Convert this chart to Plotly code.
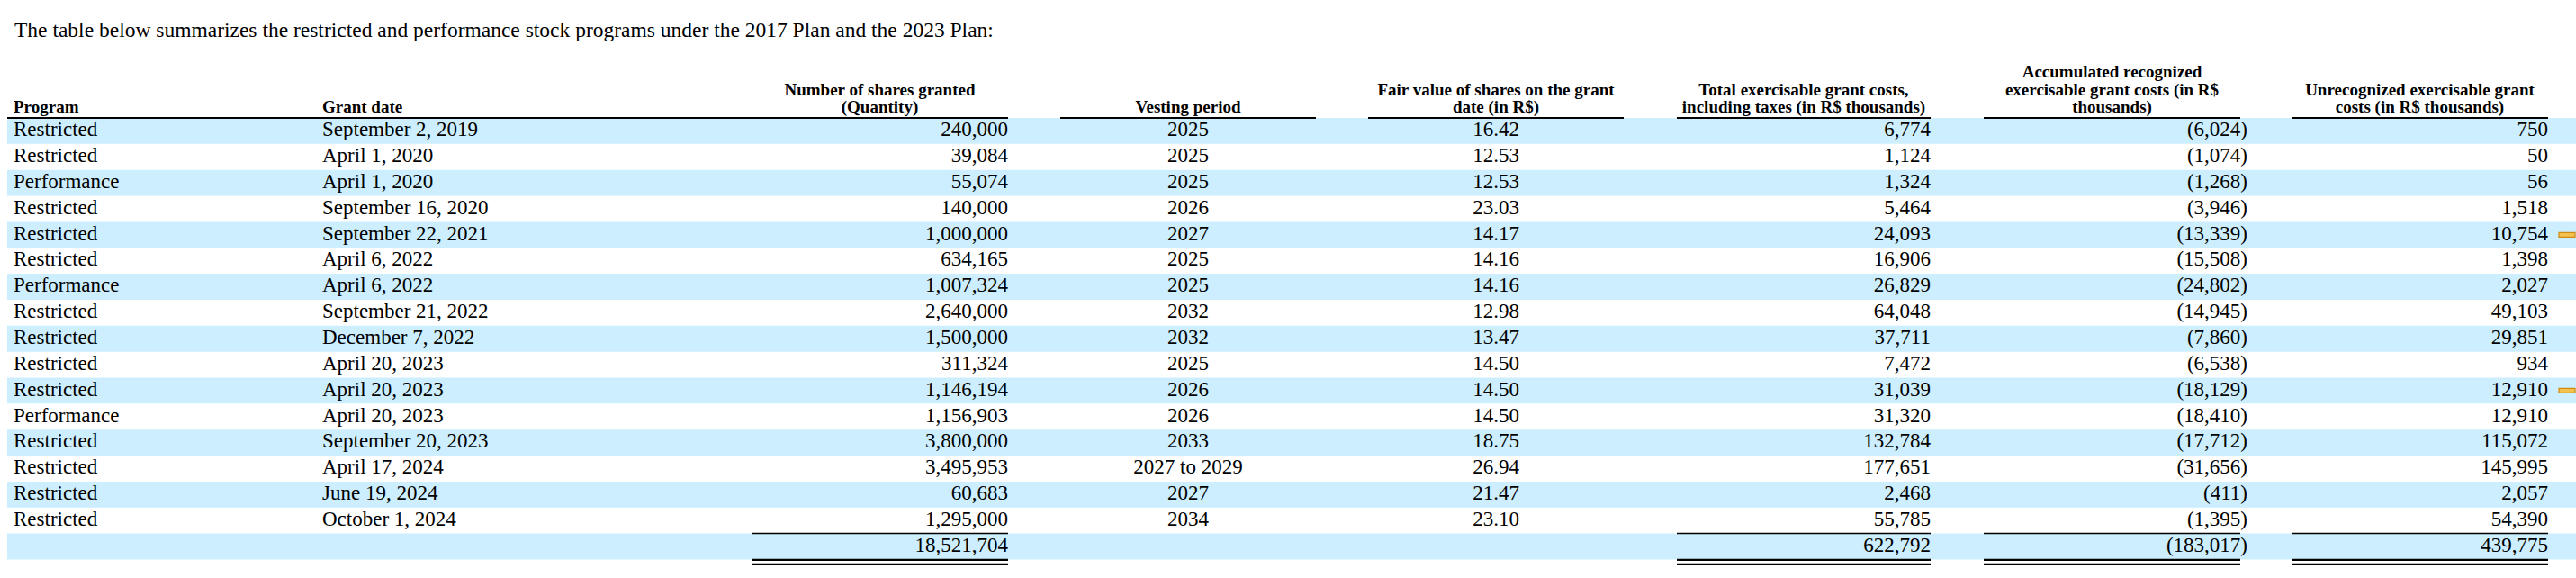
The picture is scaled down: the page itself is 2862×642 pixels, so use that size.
import plotly.graph_objects as go

# --- table data -----------------------------------------------------------
title_text = ("The table below summarizes the restricted and performance stock programs "
              "under the 2017 Plan and the 2023 Plan:")

programs = ["Restricted", "Restricted", "Performance", "Restricted", "Restricted", "Restricted",
            "Performance", "Restricted", "Restricted", "Restricted", "Restricted", "Performance",
            "Restricted", "Restricted", "Restricted", "Restricted"]
grant_dates = ["September 2, 2019", "April 1, 2020", "April 1, 2020", "September 16, 2020",
               "September 22, 2021", "April 6, 2022", "April 6, 2022", "September 21, 2022",
               "December 7, 2022", "April 20, 2023", "April 20, 2023", "April 20, 2023",
               "September 20, 2023", "April 17, 2024", "June 19, 2024", "October 1, 2024"]
shares_granted = [240000, 39084, 55074, 140000, 1000000, 634165, 1007324, 2640000, 1500000,
                  311324, 1146194, 1156903, 3800000, 3495953, 60683, 1295000]
vesting_period = ["2025", "2025", "2025", "2026", "2027", "2025", "2025", "2032", "2032", "2025",
                  "2026", "2026", "2033", "2027 to 2029", "2027", "2034"]
fair_value = [16.42, 12.53, 12.53, 23.03, 14.17, 14.16, 14.16, 12.98, 13.47, 14.50, 14.50, 14.50,
              18.75, 26.94, 21.47, 23.10]
total_costs = [6774, 1124, 1324, 5464, 24093, 16906, 26829, 64048, 37711, 7472, 31039, 31320,
               132784, 177651, 2468, 55785]
accumulated = [-6024, -1074, -1268, -3946, -13339, -15508, -24802, -14945, -7860, -6538, -18129,
               -18410, -17712, -31656, -411, -1395]
unrecognized = [750, 50, 56, 1518, 10754, 1398, 2027, 49103, 29851, 934, 12910, 12910, 115072,
                145995, 2057, 54390]
totals = {"shares": 18521704, "total": 622792, "accum": -183017, "unrec": 439775}

headers = {
    "program": ["Program"],
    "date": ["Grant date"],
    "shares": ["Number of shares granted", "(Quantity)"],
    "vesting": ["Vesting period"],
    "fair": ["Fair value of shares on the grant", "date (in R$)"],
    "total": ["Total exercisable grant costs,", "including taxes (in R$ thousands)"],
    "accum": ["Accumulated recognized", "exercisable grant costs (in R$", "thousands)"],
    "unrec": ["Unrecognized exercisable grant", "costs (in R$ thousands)"],
}
flagged_rows = [4, 10]

# --- layout constants (pixels) -------------------------------------------
W, H = 2862, 642
TOP = 131          # header underline / first row top
ROW_H = 28.85
FONT = "Liberation Serif"
BAND = "#CCEEFF"

# column spans (left, right) of the header underlines
cols = {
    "shares": (835, 1120), "vesting": (1178, 1462), "fair": (1520, 1804),
    "total": (1863, 2145), "accum": (2204, 2489), "unrec": (2546, 2831),
}
x_program, x_date = 15, 358


def money(v):
    return f"({abs(v):,})" if v < 0 else f"{v:,}"


n = len(programs)
row_y = [TOP + (i + 0.5) * ROW_H for i in range(n + 1)]

fig = go.Figure()

# zebra bands
shapes = []
for i in range(0, n + 1, 2):
    shapes.append(dict(type="rect", xref="x", yref="y", x0=8, x1=W, y0=TOP + i * ROW_H,
                       y1=TOP + (i + 1) * ROW_H, fillcolor=BAND, line_width=0, layer="below"))

# header underlines
shapes.append(dict(type="line", xref="x", yref="y", x0=8, x1=cols["shares"][1], y0=TOP, y1=TOP,
                   line=dict(color="black", width=2)))
for key in ["vesting", "fair", "total", "accum", "unrec"]:
    shapes.append(dict(type="line", xref="x", yref="y", x0=cols[key][0], x1=cols[key][1],
                       y0=TOP, y1=TOP, line=dict(color="black", width=2)))

# total rule above and double rule below
y_tot_top = TOP + n * ROW_H
y_tot_bot = TOP + (n + 1) * ROW_H
for key in ["shares", "total", "accum", "unrec"]:
    x0, x1 = cols[key]
    shapes.append(dict(type="line", xref="x", yref="y", x0=x0, x1=x1, y0=y_tot_top, y1=y_tot_top,
                       line=dict(color="black", width=1.5)))
    for dy in (0.5, 5.5):
        shapes.append(dict(type="line", xref="x", yref="y", x0=x0, x1=x1, y0=y_tot_bot + dy,
                           y1=y_tot_bot + dy, line=dict(color="black", width=2.2)))

# small orange markers on the right edge
for r in flagged_rows:
    shapes.append(dict(type="rect", xref="x", yref="y", x0=2843, x1=W - 1, y0=row_y[r] - 2.5,
                       y1=row_y[r] + 2.5, fillcolor="#F2C14E", line=dict(color="#D18B12", width=1.2)))

body_font = dict(family=FONT, size=23, color="black")


def text_col(x, texts, pos, ys=None):
    ys = ys if ys is not None else row_y[:len(texts)]
    fig.add_trace(go.Scatter(x=[x] * len(texts), y=ys, text=texts, mode="text",
                             textposition=pos, textfont=body_font, hoverinfo="skip",
                             showlegend=False))


text_col(x_program, programs, "middle right")
text_col(x_date, grant_dates, "middle right")
text_col(cols["shares"][1], [f"{v:,}" for v in shares_granted] + [f"{totals['shares']:,}"],
         "middle left")
text_col(sum(cols["vesting"]) / 2, vesting_period, "middle center")
text_col(sum(cols["fair"]) / 2, [f"{v:.2f}" for v in fair_value], "middle center")
text_col(cols["total"][1], [money(v) for v in total_costs] + [money(totals["total"])],
         "middle left")
text_col(cols["accum"][1] + 8, [money(v) for v in accumulated] + [money(totals["accum"])],
         "middle left")
text_col(cols["unrec"][1], [money(v) for v in unrecognized] + [money(totals["unrec"])],
         "middle left")

# headers (bottom aligned, one trace per column)
LINE_GAP = 19.5
HEAD_BASE = 120.5
head_font = dict(family=FONT, size=19, color="black", weight="bold")
head_pos = {
    "program": (x_program, "middle right"), "date": (x_date, "middle right"),
}
for key, lines in headers.items():
    if key in head_pos:
        x, pos = head_pos[key]
    else:
        x, pos = sum(cols[key]) / 2, "middle center"
    k = len(lines)
    ys = [HEAD_BASE - (k - 1 - j) * LINE_GAP for j in range(k)]
    fig.add_trace(go.Scatter(x=[x] * k, y=ys, text=lines, mode="text", textposition=pos,
                             textfont=head_font, hoverinfo="skip", showlegend=False))

fig.update_layout(
    width=W, height=H,
    margin=dict(l=0, r=0, t=0, b=0),
    paper_bgcolor="white", plot_bgcolor="white",
    xaxis=dict(range=[0, W], visible=False, fixedrange=True),
    yaxis=dict(range=[H, 0], visible=False, fixedrange=True),
    shapes=shapes,
    annotations=[dict(text=title_text, xref="x", yref="y", x=14, y=33, xanchor="left",
                      yanchor="middle", showarrow=False,
                      font=dict(family=FONT, size=23.5, color="black"))],
)

# page body has a default 8px margin; drop it so the figure fills the window exactly
fig.write_html("out.html", config={"displayModeBar": False},
               post_script="document.body.style.margin = '0';")
